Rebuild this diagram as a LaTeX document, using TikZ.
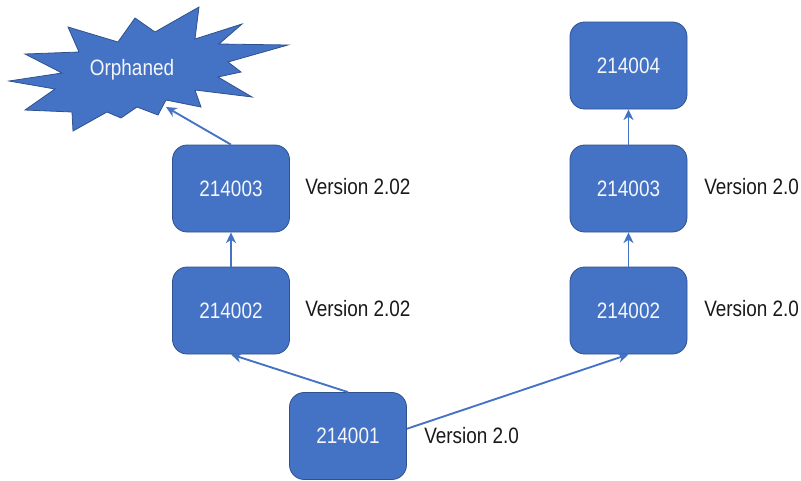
\documentclass[tikz,border=0pt]{standalone}
\usepackage{fontspec}
\setmainfont[FakeStretch=0.85]{Liberation Sans}
\usetikzlibrary{arrows.meta}
\definecolor{boxblue}{HTML}{4472C4}
\definecolor{boxedge}{HTML}{2F528F}
\definecolor{boxtext}{HTML}{F4F6FB}
\begin{document}
\begin{tikzpicture}[x=0.75pt,y=-0.75pt,
  stepbox/.style={draw=boxedge,line width=0.6pt,fill=boxblue,rounded corners=11pt,
    minimum width=87.75pt,minimum height=65.25pt,inner sep=0pt,
    text=boxtext,font=\fontsize{16.7pt}{19pt}\selectfont},
  verlabel/.style={anchor=west,inner sep=0pt,text=black!90,font=\fontsize{16.7pt}{19pt}\selectfont},
  link/.style={draw=boxblue,line width=1.4pt,-{Stealth[length=8pt,width=7.5pt,inset=2.5pt]}}]
\useasboundingbox (0,0) rectangle (801,480);
% starburst
\draw[draw=boxedge,line width=0.6pt,fill=boxblue,line join=miter]
 (9,81) -- (62,73) -- (25,54) -- (79,52) -- (68,27) -- (118,42) -- (135,18) -- (155,32)
 -- (199,7) -- (195,39) -- (242,24) -- (219,44) -- (288,45) -- (228,62) -- (241,72)
 -- (218,77) -- (252,97) -- (195,90) -- (201,107) -- (166,100) -- (158,115) -- (137,107)
 -- (121,118) -- (107,112) -- (73,131) -- (72,112) -- (25,110) -- (55,89) -- cycle;
\node[text=boxtext,inner sep=0pt,font=\fontsize{16.7pt}{19pt}\selectfont] (orph) at (132,70) {Orphaned};
\coordinate (orphtip) at (166,107);
% boxes
\node[stepbox] (L3) at (231,188.5) {214003};
\node[stepbox] (L2) at (231,310.5) {214002};
\node[stepbox] (B1) at (348,436) {214001};
\node[stepbox] (R2) at (628.5,310.5) {214002};
\node[stepbox] (R3) at (628.5,188.5) {214003};
\node[stepbox] (R4) at (628.5,65.5) {214004};
% labels
\node[verlabel] (vL3) at (305,187) {Version 2.02};
\node[verlabel] (vL2) at (305,309) {Version 2.02};
\node[verlabel] (vR3) at (704,187) {Version 2.0};
\node[verlabel] (vR2) at (704,309) {Version 2.0};
\node[verlabel] (vB1) at (424,436) {Version 2.0};
% connectors
\draw[link] (B1.north) -- (L2.south);
\draw[link] (B1.7) -- (R2.south);
\draw[link] (L2.north) -- (L3.south);
\draw[link] (R2.north) -- (R3.south);
\draw[link] (R3.north) -- (R4.south);
\draw[link] (L3.north) -- (orphtip);
\end{tikzpicture}
\end{document}
